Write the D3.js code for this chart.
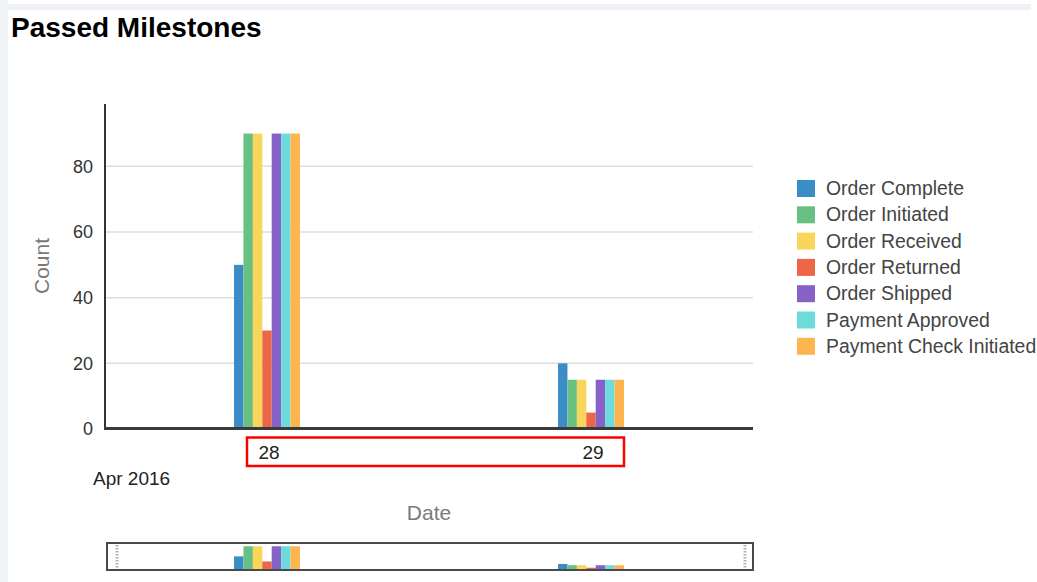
<!DOCTYPE html>
<html>
<head>
<meta charset="utf-8">
<script src="https://cdn.jsdelivr.net/npm/d3@7"></script>
<style>
  html, body { margin: 0; padding: 0; background: #fff; }
  svg { display: block; font-family: "Liberation Sans", Arial, sans-serif; }
</style>
</head>
<body>
<svg id="chart" width="1037" height="582"></svg>
<script>
// Milestone counts per day (April 2016)
const days = ["28", "29"];
const series = [
  "Order Complete", "Order Initiated", "Order Received", "Order Returned",
  "Order Shipped", "Payment Approved", "Payment Check Initiated"
];
const colors = ["#3a8dc6", "#68c182", "#fad55c", "#ed6647", "#8561c8", "#6ddbdb", "#ffb54d"];
const valuesDay28 = [50, 90, 90, 30, 90, 90, 90];
const valuesDay29 = [20, 15, 15, 5, 15, 15, 15];
const yTicks = [0, 20, 40, 60, 80];

const values = [valuesDay28, valuesDay29];
const rows = days.map((d, i) => ({ day: d, vals: series.map((s, j) => ({ s, v: values[i][j], c: colors[j] })) }));

const svg = d3.select("#chart");

// page frame
svg.append("rect").attr("x", 0).attr("y", 4).attr("width", 1031).attr("height", 6).attr("fill", "#eef2f6");
svg.append("rect").attr("x", 0).attr("y", 0).attr("width", 8).attr("height", 582).attr("fill", "#f2f5f8");

// title
svg.append("text").attr("x", 11).attr("y", 37)
  .attr("font-size", 28).attr("font-weight", "bold").attr("fill", "#000")
  .text("Passed Milestones");

const plot = { left: 105, right: 753, top: 104, bottom: 429 };

const x0 = d3.scaleBand().domain(days).range([plot.left, plot.right]).padding(0);
const x1 = d3.scaleBand().domain(series).range([0, x0.bandwidth()]).paddingInner(0).paddingOuter(13.7);
const y = d3.scaleLinear().domain([0, 99]).range([plot.bottom, plot.top]);

// gridlines
svg.append("g").selectAll("line").data(yTicks.filter(t => t > 0)).join("line")
  .attr("x1", plot.left).attr("x2", plot.right)
  .attr("y1", d => y(d)).attr("y2", d => y(d))
  .attr("stroke", "#dedede").attr("stroke-width", 1.5);

// y axis labels
const yAxis = d3.axisLeft(y).tickValues(yTicks).tickSize(0).tickPadding(12);
const gy = svg.append("g").attr("transform", `translate(${plot.left},0)`).call(yAxis);
gy.select(".domain").remove();
gy.selectAll("text").attr("font-size", 18).attr("fill", "#333")
  .attr("font-family", "Liberation Sans, Arial, sans-serif");

// bars
const groups = svg.append("g").selectAll("g").data(rows).join("g")
  .attr("transform", d => `translate(${x0(d.day)},0)`);
groups.selectAll("rect").data(d => d.vals).join("rect")
  .attr("x", d => x1(d.s)).attr("width", x1.bandwidth())
  .attr("y", d => y(d.v)).attr("height", d => y(0) - y(d.v))
  .attr("fill", d => d.c);

// axis lines
svg.append("line").attr("x1", plot.left).attr("x2", plot.left)
  .attr("y1", plot.top).attr("y2", plot.bottom)
  .attr("stroke", "#333").attr("stroke-width", 2);
svg.append("line").attr("x1", plot.left - 1).attr("x2", plot.right)
  .attr("y1", y(0) - 0.5).attr("y2", y(0) - 0.5)
  .attr("stroke", "#3a3a3a").attr("stroke-width", 3);

// x axis labels
const xAxis = d3.axisBottom(x0).tickSize(0).tickPadding(0);
const gx = svg.append("g").attr("transform", `translate(0,${plot.bottom})`).call(xAxis);
gx.select(".domain").remove();
gx.selectAll("text").attr("font-size", 19).attr("fill", "#222").attr("dy", 0).attr("y", 30)
  .attr("dx", 2)
  .attr("font-family", "Liberation Sans, Arial, sans-serif");

// highlight box around the day labels
const c28 = x0("28") + x0.bandwidth() / 2;
const c29 = x0("29") + x0.bandwidth() / 2;
svg.append("rect")
  .attr("x", c28 - 20).attr("y", 437.5)
  .attr("width", (c29 + 33) - (c28 - 20)).attr("height", 28.5)
  .attr("fill", "none").attr("stroke", "#f00").attr("stroke-width", 2.5);

// month label
svg.append("text").attr("x", 93).attr("y", 485)
  .attr("font-size", 19).attr("fill", "#222").text("Apr 2016");

// axis titles
svg.append("text").attr("x", (plot.left + plot.right) / 2).attr("y", 520)
  .attr("text-anchor", "middle").attr("font-size", 21).attr("fill", "#7a7a7a").text("Date");
svg.append("text").attr("transform", "translate(49,266) rotate(-90)")
  .attr("text-anchor", "middle").attr("font-size", 21).attr("fill", "#7a7a7a").text("Count");

// legend
const legend = svg.append("g")
  .selectAll("g").data(series).join("g")
  .attr("transform", (d, i) => `translate(797,${180 + i * 26.3})`);
legend.append("rect").attr("width", 18).attr("height", 17)
  .attr("fill", (d, i) => colors[i]);
legend.append("text").attr("x", 29).attr("y", 15)
  .attr("font-size", 19.4).attr("fill", "#444").text(d => d);

// overview navigator
const nav = { top: 544, bottom: 569 };
const yN = d3.scaleLinear().domain([0, 99]).range([nav.bottom, nav.top]);
const navGroups = svg.append("g").selectAll("g").data(rows).join("g")
  .attr("transform", d => `translate(${x0(d.day)},0)`);
navGroups.selectAll("rect").data(d => d.vals).join("rect")
  .attr("x", d => x1(d.s)).attr("width", x1.bandwidth())
  .attr("y", d => yN(d.v)).attr("height", d => yN(0) - yN(d.v))
  .attr("fill", d => d.c);
svg.append("rect").attr("x", plot.left + 2).attr("y", nav.top - 1)
  .attr("width", plot.right - plot.left - 2).attr("height", nav.bottom - nav.top + 2)
  .attr("fill", "none").attr("stroke", "#4a4a4a").attr("stroke-width", 2);
[plot.left + 12, plot.right - 8].forEach(hx => {
  svg.append("line").attr("x1", hx).attr("x2", hx)
    .attr("y1", nav.top + 1).attr("y2", nav.bottom)
    .attr("stroke", "#a8b4c4").attr("stroke-width", 3).attr("stroke-dasharray", "1.5,1.5");
});
</script>
</body>
</html>
